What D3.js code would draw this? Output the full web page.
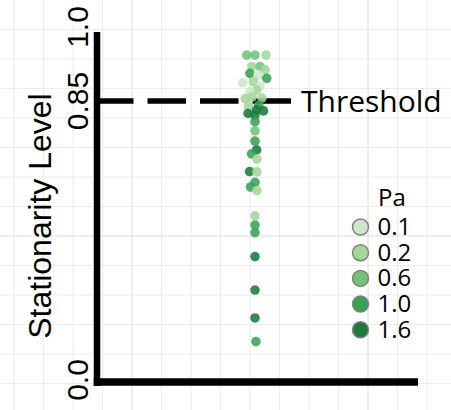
<!DOCTYPE html>
<html>
<head>
<meta charset="utf-8">
<script src="https://cdn.jsdelivr.net/npm/d3@7"></script>
<style>
  body { margin: 0; background: #fff; }
  svg { display: block; }
</style>
</head>
<body>
<svg id="chart" width="451" height="410"></svg>
<script>
// stationarity level of each run
const stationarity = [0.943, 0.943, 0.943, 0.920, 0.920, 0.913, 0.906, 0.903, 0.896, 0.887,
  0.889, 0.880, 0.872, 0.869, 0.855, 0.858, 0.856, 0.835, 0.837, 0.823,
  0.820, 0.807, 0.812, 0.787, 0.759, 0.728, 0.701, 0.689, 0.673, 0.635,
  0.634, 0.602, 0.588, 0.577, 0.500, 0.472, 0.449, 0.376, 0.274, 0.189, 0.117];
// horizontal jitter (x units, category sits at 0.5)
const jitter = [-0.026, 0, 0.035, -0.010, 0.016, 0.032, -0.016, 0.010, 0.037, -0.038,
  -0.005, 0.016, 0.005, -0.016, -0.031, -0.009, 0.022, -0.021, 0.012, 0.005,
  0.027, 0, -0.022, 0, 0, 0, 0.005, -0.011, 0.006, -0.017,
  0.006, 0, -0.014, 0.006, 0, 0, 0, 0, 0, 0, 0.003];
const pa = [0.6, 0.6, 0.2, 0.2, 0.6, 0.2, 1.0, 0.1, 1.0, 0.1,
  0.2, 0.1, 0.2, 0.1, 0.2, 0.2, 0.2, 0.2, 1.0, 1.6,
  1.6, 1.6, 1.6, 1.0, 0.6, 1.0, 1.6, 1.0, 0.2, 1.6,
  0.2, 1.0, 1.0, 0.2, 0.2, 1.0, 1.0, 1.6, 1.6, 1.6, 1.0];

const paLevels = [0.1, 0.2, 0.6, 1.0, 1.6];
const paColors = ['#cde8c8', '#a4d69c', '#72c27a', '#38a257', '#1c7a3c'];
const yTicks = [0.0, 0.85, 1.0];
const yTickLabels = ['0.0', '0.85', '1.0'];
const threshold = 0.85;

const points = stationarity.map((v, i) => ({ v: v, j: jitter[i], pa: pa[i] }));

const svg = d3.select('#chart');

// background grid
const gridX = d3.range(14, 451, 29.5);
const gridY = d3.range(29.5, 410, 29.5);
svg.append('g').selectAll('line').data(gridX).join('line')
  .attr('x1', d => d).attr('x2', d => d).attr('y1', 0).attr('y2', 410)
  .attr('stroke', d => (Math.abs(d - 132) < 1 || Math.abs(d - 368) < 1) ? '#dcdcdc' : '#ececec')
  .attr('stroke-width', 1);
svg.append('g').selectAll('line').data(gridY).join('line')
  .attr('y1', d => d).attr('y2', d => d).attr('x1', 0).attr('x2', 451)
  .attr('stroke', d => Math.abs(d - 236) < 1 ? '#dcdcdc' : '#ececec')
  .attr('stroke-width', 1);

// scales (the axis in the picture is not evenly spaced, so piecewise)
const y = d3.scaleLinear().domain([0, 0.85, 1]).range([380, 101, 27]);
const x = d3.scaleLinear().domain([0, 1]).range([97, 413]);
const color = d3.scaleOrdinal().domain(paLevels).range(paColors);

// threshold line
svg.append('line')
  .attr('x1', 95).attr('x2', 291)
  .attr('y1', y(threshold)).attr('y2', y(threshold))
  .attr('stroke', '#000').attr('stroke-width', 5.5)
  .attr('stroke-dasharray', '38.5,14');

svg.append('text')
  .attr('x', 301).attr('y', y(threshold) + 11)
  .attr('font-family', 'Open Sans, sans-serif')
  .attr('font-size', 30)
  .text('Threshold');

// points
svg.append('g').selectAll('circle').data(points).join('circle')
  .attr('cx', d => x(0.5 + d.j))
  .attr('cy', d => y(d.v))
  .attr('r', 4.8)
  .attr('fill', d => color(d.pa))
  .attr('fill-opacity', 0.88);

// axis lines
svg.append('line')
  .attr('x1', 97).attr('x2', 97).attr('y1', 32).attr('y2', 386)
  .attr('stroke', '#000').attr('stroke-width', 6.5);
svg.append('line')
  .attr('x1', 93.75).attr('x2', 418).attr('y1', 382).attr('y2', 382)
  .attr('stroke', '#000').attr('stroke-width', 7.5);

// y tick labels, rotated
svg.append('g').selectAll('text').data(yTicks).join('text')
  .attr('transform', d => `translate(88,${y(d)}) rotate(-90)`)
  .attr('text-anchor', 'middle')
  .attr('font-family', 'Liberation Sans, Arial, sans-serif')
  .attr('font-size', 30)
  .text((d, i) => yTickLabels[i]);

// y title
svg.append('text')
  .attr('transform', 'translate(51,216) rotate(-90)')
  .attr('text-anchor', 'middle')
  .attr('font-family', 'Liberation Sans, Arial, sans-serif')
  .attr('font-size', 32)
  .text('Stationarity Level');

// legend
const legend = svg.append('g');
legend.append('text')
  .attr('x', 378).attr('y', 206)
  .attr('font-family', 'Open Sans, sans-serif')
  .attr('font-size', 24)
  .text('Pa');
const item = legend.selectAll('g.item').data(paLevels).join('g')
  .attr('class', 'item')
  .attr('transform', (d, i) => `translate(360.5,${227 + i * 25.7})`);
item.append('circle')
  .attr('r', 8)
  .attr('fill', d => color(d))
  .attr('stroke', '#808080')
  .attr('stroke-width', 1.5);
item.append('text')
  .attr('x', 17).attr('y', 8)
  .attr('font-family', 'Open Sans, sans-serif')
  .attr('font-size', 24)
  .text(d => d3.format('.1f')(d));
</script>
</body>
</html>
